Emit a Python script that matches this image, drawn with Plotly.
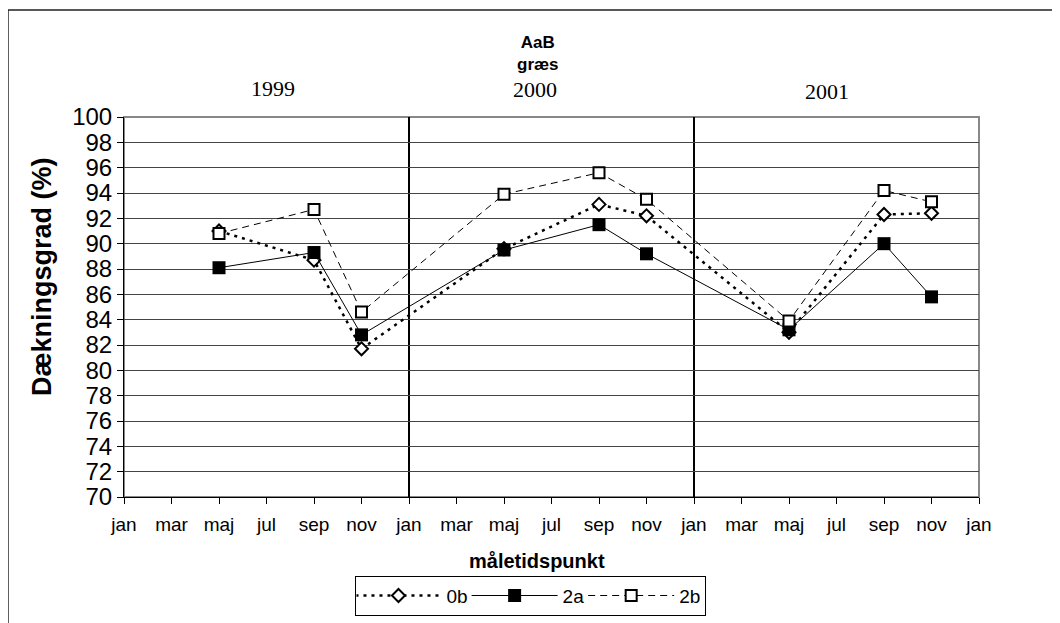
import plotly.graph_objects as go

# months since jan 1999 (0 = jan 1999)
months = [4, 8, 10, 16, 20, 22, 28, 32, 34]
s0b = [91.0, 88.7, 81.7, 89.6, 93.1, 92.2, 83.0, 92.3, 92.4]
s2a = [88.1, 89.3, 82.8, 89.5, 91.5, 89.2, 83.2, 90.0, 85.8]
s2b = [90.8, 92.7, 84.6, 93.9, 95.6, 93.5, 83.9, 94.2, 93.3]

tick_vals = list(range(0, 37, 2))
month_names = ["jan", "mar", "maj", "jul", "sep", "nov"]
tick_text = [month_names[(v % 12) // 2] for v in tick_vals]
year_labels = ["1999", "2000", "2001"]
year_sep = [12, 24]

SANS = "Liberation Sans, Arial, sans-serif"
SERIF = "Liberation Serif, Times New Roman, serif"

fig = go.Figure()
fig.add_trace(go.Scatter(
    x=months, y=s0b, name="0b", mode="lines+markers",
    line=dict(color="black", width=2.5, dash="3px,5px"),
    marker=dict(symbol="diamond", size=10, color="white",
                line=dict(color="black", width=2))))
fig.add_trace(go.Scatter(
    x=months, y=s2a, name="2a", mode="lines+markers",
    line=dict(color="black", width=1),
    marker=dict(symbol="square", size=13, color="black",
                line=dict(color="black", width=0))))
fig.add_trace(go.Scatter(
    x=months, y=s2b, name="2b", mode="lines+markers",
    line=dict(color="black", width=1, dash="7px,5px"),
    marker=dict(symbol="square", size=11, color="white",
                line=dict(color="black", width=2))))

shapes = []
# plot area frame (grey top/right)
shapes.append(dict(type="rect", xref="paper", yref="paper", x0=0, x1=1, y0=0, y1=1,
                   line=dict(color="#888888", width=2), layer="below"))
for s in year_sep:
    shapes.append(dict(type="line", xref="x", yref="y", x0=s, x1=s, y0=70, y1=100,
                       line=dict(color="black", width=2), layer="below"))
# outer chart border
shapes.append(dict(type="rect", xref="paper", yref="paper",
                   x0=-0.1357, x1=1.3, y0=-0.6, y1=1.2816,
                   line=dict(color="#222222", width=1.5)))

annotations = [
    dict(text="<b>AaB</b><br><b>græs</b>", x=0.4842, y=1.166, xref="paper", yref="paper",
         showarrow=False, font=dict(family=SANS, size=17, color="black"),
         xanchor="center", yanchor="middle"),
    dict(text=year_labels[0], x=0.1743, y=1.0763, xref="paper", yref="paper",
         showarrow=False, font=dict(family=SERIF, size=22, color="black"),
         xanchor="center", yanchor="middle"),
    dict(text=year_labels[1], x=0.4807, y=1.0711, xref="paper", yref="paper",
         showarrow=False, font=dict(family=SERIF, size=22, color="black"),
         xanchor="center", yanchor="middle"),
    dict(text=year_labels[2], x=0.8222, y=1.0658, xref="paper", yref="paper",
         showarrow=False, font=dict(family=SERIF, size=22, color="black"),
         xanchor="center", yanchor="middle"),
    dict(text="<b>måletidspunkt</b>", x=0.483, y=-0.168, xref="paper", yref="paper",
         showarrow=False, font=dict(family=SANS, size=20, color="black"),
         xanchor="center", yanchor="middle"),
    dict(text="<b>Dækningsgrad (%)</b>", x=-0.0959, y=0.579, xref="paper", yref="paper",
         showarrow=False, textangle=-90, font=dict(family=SANS, size=27, color="black"),
         xanchor="center", yanchor="middle"),
]

fig.update_layout(
    width=1060, height=623,
    margin=dict(l=116, r=89, t=109, b=134),
    paper_bgcolor="white", plot_bgcolor="white",
    font=dict(family=SANS, color="black"),
    shapes=shapes, annotations=annotations,
    showlegend=True,
    legend=dict(orientation="h", x=0.476, y=-0.207, xanchor="center", yanchor="top",
                bordercolor="black", borderwidth=1, font=dict(family=SANS, size=19),
                itemwidth=86, bgcolor="white", tracegroupgap=0,
                indentation=-6),
    xaxis=dict(range=[0, 36], tickvals=tick_vals, ticktext=tick_text,
               showgrid=False, zeroline=False, showline=True, linecolor="black",
               linewidth=1, ticks="outside", ticklen=6, tickcolor="black",
               ticklabelstandoff=4,
               tickfont=dict(family=SANS, size=19)),
    yaxis=dict(range=[70, 100], dtick=2, tick0=70, showgrid=True, gridcolor="#444444",
               gridwidth=1, zeroline=False, showline=True, linecolor="black",
               linewidth=1, ticks="outside", ticklen=6, tickcolor="black",
               tickfont=dict(family=SANS, size=24)),
)

fig.write_html("out.html")
